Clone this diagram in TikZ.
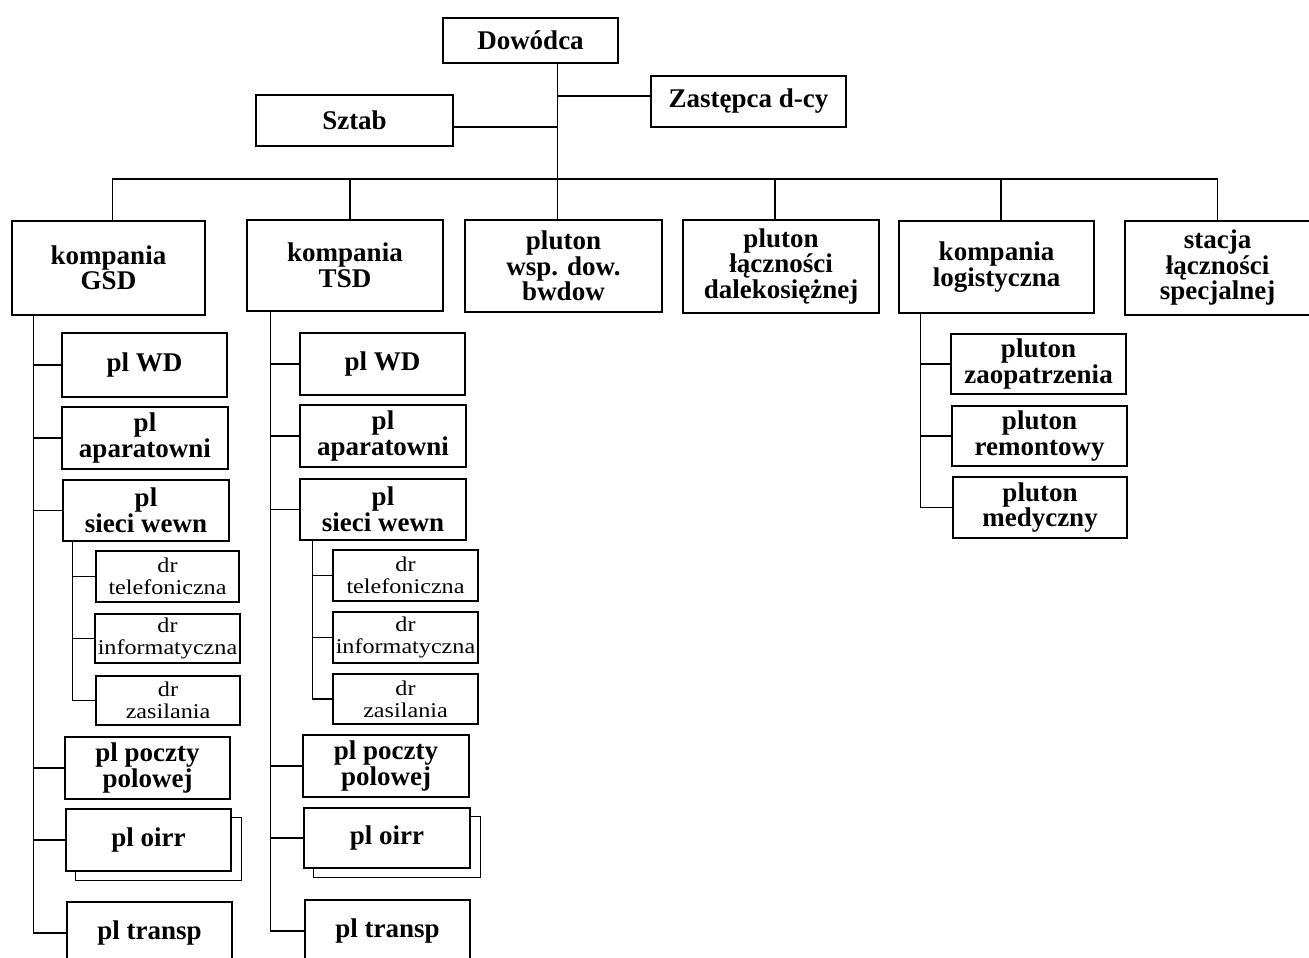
\documentclass[tikz,border=0pt]{standalone}
\usepackage{fontspec}
\setmainfont{Liberation Serif}
\newfontfamily\drfont[FakeStretch=1.15]{Liberation Serif}
\usetikzlibrary{calc}
\tikzset{
  unit/.style={draw, line width=1.5pt, fill=white, inner sep=0pt, align=center,
    font=\fontsize{27}{25.5}\selectfont\bfseries},
  squad/.style={unit, font=\drfont\fontsize{21}{22}\selectfont},
  link/.style={line width=1.4pt},
  twin/.style={line width=1.4pt},
}
% [style]{name}{left}{top}{right}{bottom}{text}
\newcommand\orgbox[7][unit]{%
  \node[#1, minimum width={#5-#3}, minimum height={#6-#4}] (#2)
    at ({(#3+#5)/2},{(#4+#6)/2}) {#7};}
% second, offset outline behind a unit
\newcommand\twinbox[1]{%
  \draw[twin] ($(#1.south west)+(10,0)$) -- ($(#1.south west)+(10,9)$)
    -- ($(#1.south east)+(10,9)$) -- ($(#1.north east)+(10,9)$)
    -- ($(#1.north east)+(0,9)$);}
\begin{document}
\begin{tikzpicture}[x=1pt,y=-1pt]
\useasboundingbox (0,0) rectangle (1309,958);

% command level
\orgbox{dow}{443}{18}{618}{63}{Dowódca}
\orgbox{zast}{651}{76}{846}{127}{Zastępca d-cy}
\orgbox{sztab}{256}{95}{453}{146}{Sztab}

% subordinate units
\orgbox{gsd}{12}{221}{205}{315}{kompania\\GSD}
\orgbox{tsd}{247}{220}{443}{311}{kompania\\TSD}
\orgbox{wsp}{465}{220}{662}{312}{pluton\\wsp. dow.\\bwdow}
\orgbox{dal}{683}{220}{879}{313}{pluton\\łączności\\dalekosiężnej}
\orgbox{log}{899}{221}{1094}{313}{kompania\\logistyczna}
\orgbox{sta}{1125}{221}{1310}{315}{stacja\\łączności\\specjalnej}

% kompania GSD
\orgbox{g1}{62}{333}{227}{397}{pl WD}
\orgbox{g2}{62}{407}{228}{469}{pl\\aparatowni}
\orgbox{g3}{63}{480}{229}{541}{pl\\sieci wewn}
\orgbox[squad]{g3a}{96}{551}{239}{602}{dr\\telefoniczna}
\orgbox[squad]{g3b}{95}{614}{240}{663}{dr\\informatyczna}
\orgbox[squad]{g3c}{96}{676}{240}{725}{dr\\zasilania}
\orgbox{g4}{65}{737}{230}{799}{pl poczty\\polowej}
\orgbox{g5}{66}{809}{231}{871}{pl oirr}
\twinbox{g5}
\orgbox{g6}{67}{902}{232}{964}{pl transp}

% kompania TSD
\orgbox{t1}{300}{333}{465}{395}{pl WD}
\orgbox{t2}{300}{405}{466}{467}{pl\\aparatowni}
\orgbox{t3}{300}{479}{466}{540}{pl\\sieci wewn}
\orgbox[squad]{t3a}{333}{550}{478}{601}{dr\\telefoniczna}
\orgbox[squad]{t3b}{333}{612}{478}{663}{dr\\informatyczna}
\orgbox[squad]{t3c}{333}{674}{478}{724}{dr\\zasilania}
\orgbox{t4}{303}{735}{469}{797}{pl poczty\\polowej}
\orgbox{t5}{304}{808}{470}{868}{pl oirr}
\twinbox{t5}
\orgbox{t6}{305}{900}{470}{962}{pl transp}

% kompania logistyczna
\orgbox{l1}{951}{334}{1126}{394}{pluton\\zaopatrzenia}
\orgbox{l2}{952}{406}{1127}{466}{pluton\\remontowy}
\orgbox{l3}{953}{477}{1127}{538}{pluton\\medyczny}

% junction points
\coordinate (trunk) at ($(dow.south)+(27,0)$);
\coordinate (bus) at (0,179);
\coordinate (zj) at (0,96);
\coordinate (sj) at (0,127);
\coordinate (gsp) at ($(gsd.south west)+(22,0)$);
\coordinate (gsub) at ($(g3.south west)+(10,0)$);
\coordinate (tsp) at ($(tsd.south west)+(24,0)$);
\coordinate (tsub) at ($(t3.south west)+(13,0)$);
\coordinate (lsp) at ($(log.south west)+(22,0)$);

% top connectors
\draw[link] (trunk) -- (trunk |- wsp.north);
\draw[link] (trunk |- zj) -- (zast.west |- zj);
\draw[link] (trunk |- sj) -- (sztab.east |- sj);
\coordinate (d1) at ($(gsd.north)+(4,0)$);
\coordinate (d2) at ($(tsd.north)+(5,0)$);
\coordinate (d4) at ($(dal.north)+(-6,0)$);
\coordinate (d5) at ($(log.north)+(4.5,0)$);
\draw[link] (d1) |- (bus -| sta.north) -- (sta.north);
\draw[link] (d2) -- (d2 |- bus);
\draw[link] (d4) -- (d4 |- bus);
\draw[link] (d5) -- (d5 |- bus);

% GSD tree
\draw[link] (gsp) -- (gsp |- g6.west) -- (g6.west);
\foreach \n in {g1,g2,g3,g4,g5} \draw[link] (gsp |- \n.west) -- (\n.west);
\draw[link] (gsub) |- (g3c.west);
\foreach \n in {g3a,g3b} \draw[link] (gsub |- \n.west) -- (\n.west);

% TSD tree
\draw[link] (tsp) -- (tsp |- t6.west) -- (t6.west);
\foreach \n in {t1,t2,t3,t4,t5} \draw[link] (tsp |- \n.west) -- (\n.west);
\draw[link] (tsub) |- (t3c.west);
\foreach \n in {t3a,t3b} \draw[link] (tsub |- \n.west) -- (\n.west);

% logistics tree
\draw[link] (lsp) |- (l3.west);
\foreach \n in {l1,l2} \draw[link] (lsp |- \n.west) -- (\n.west);
\end{tikzpicture}
\end{document}
